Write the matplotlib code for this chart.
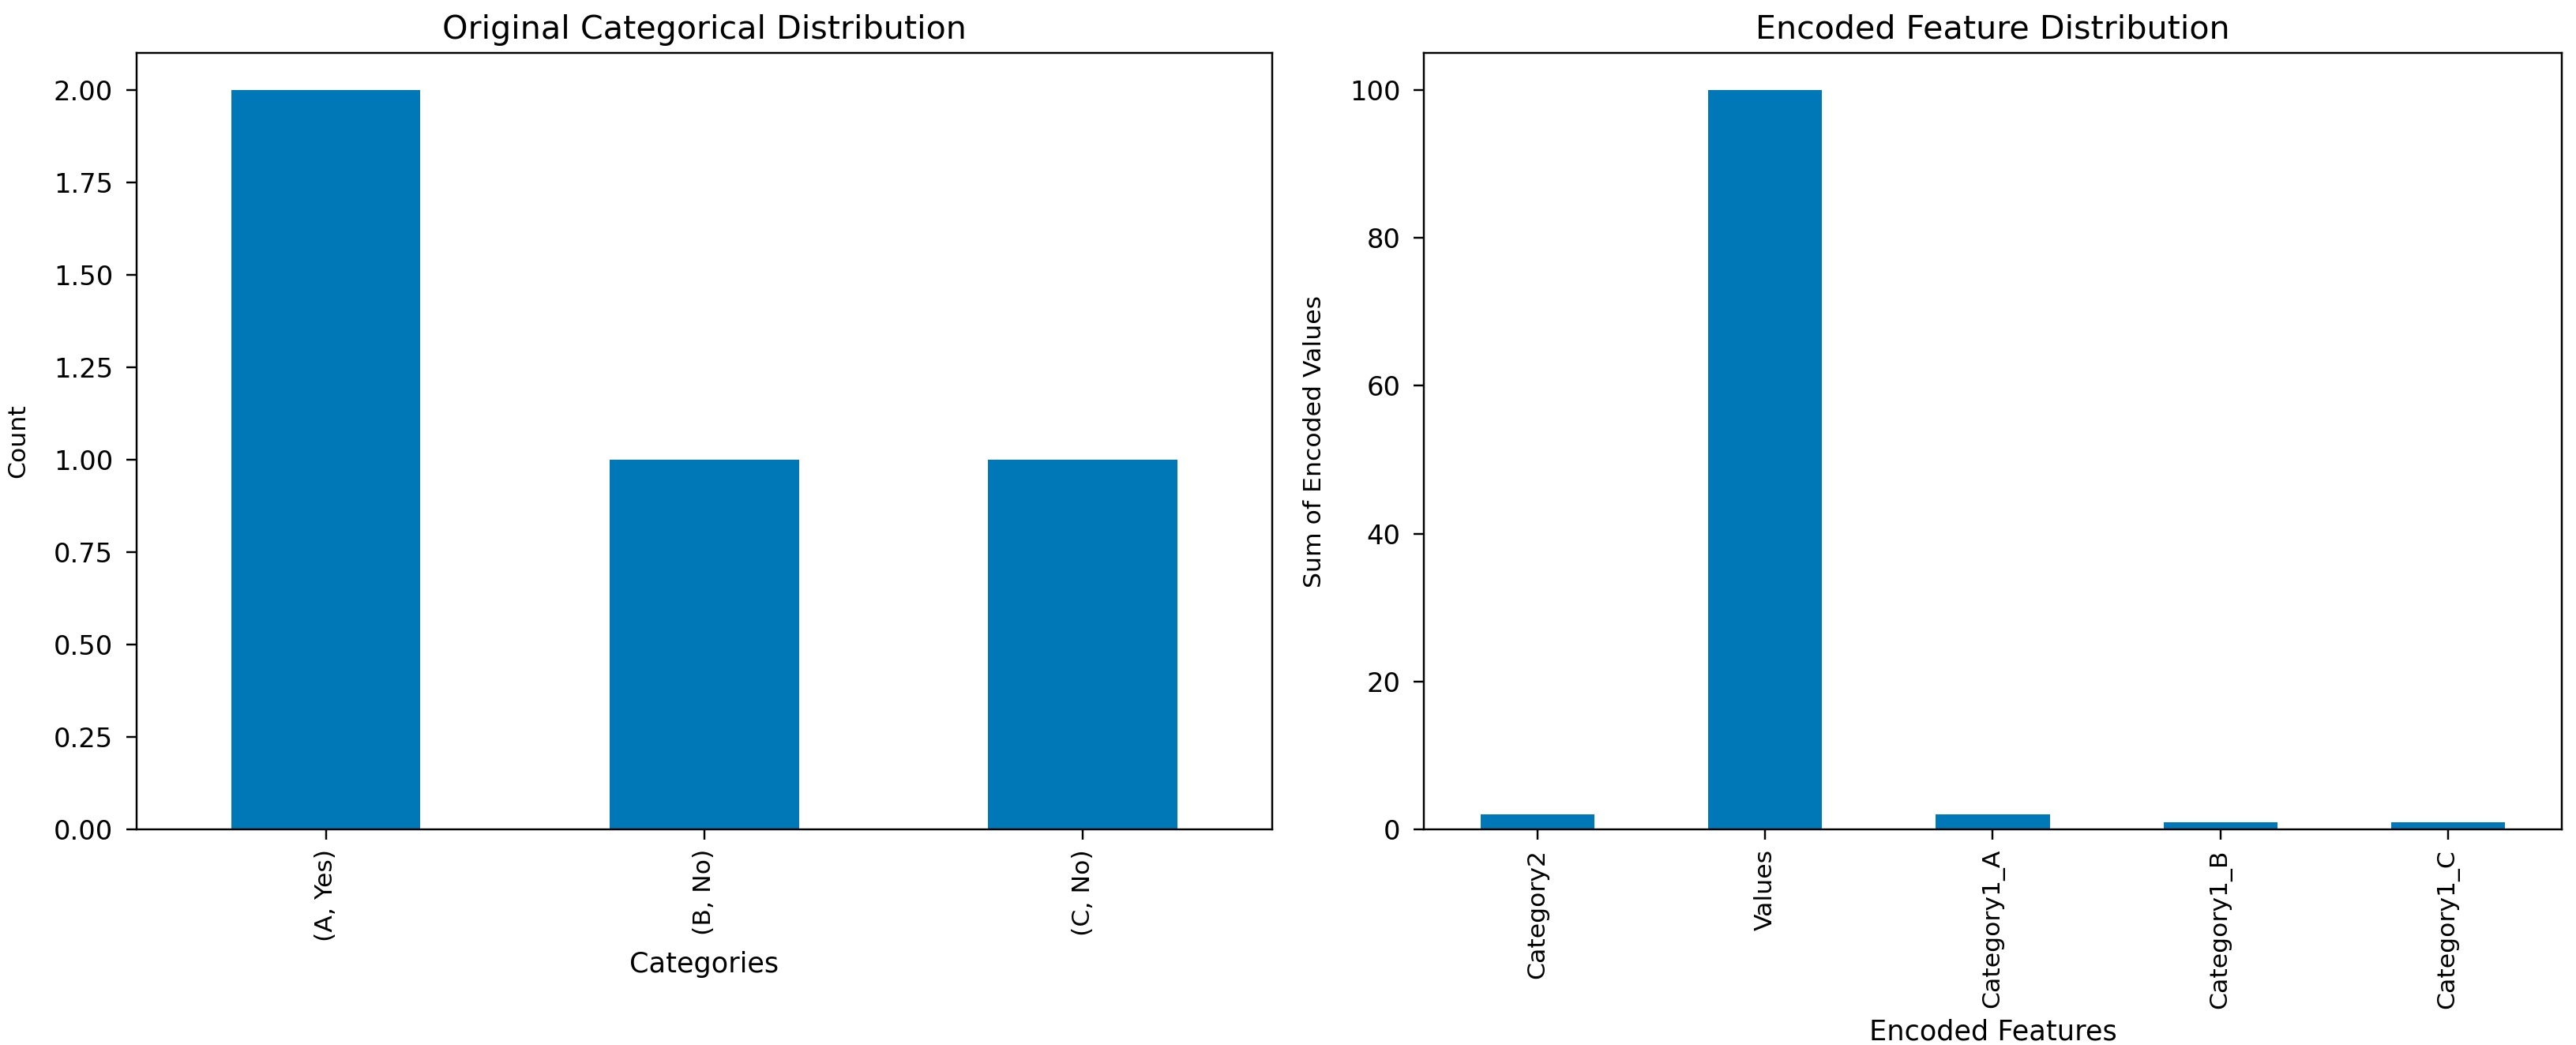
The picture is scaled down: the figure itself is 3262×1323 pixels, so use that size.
import matplotlib
matplotlib.use("Agg")
import matplotlib.pyplot as plt
import numpy as np

# данные
categories = ["(A, Yes)", "(B, No)", "(C, No)"]
counts = [2, 1, 1]

features = ["Category2", "Values", "Category1_A", "Category1_B", "Category1_C"]
encoded_sums = [2, 100, 2, 1, 1]

bar_color = "#0077B6"

plt.rcParams["xtick.major.size"] = 4.2
plt.rcParams["ytick.major.size"] = 4.2
plt.rcParams["ytick.major.pad"] = 5.5
plt.rcParams["xtick.major.pad"] = 4

fig = plt.figure(figsize=(3262 / 220, 1323 / 220), dpi=220)
ax1 = fig.add_axes([0.0530, 0.2063, 0.4408, 0.743])
ax2 = fig.add_axes([0.5527, 0.2063, 0.4418, 0.743])

# левый график - исходное распределение категорий
x1 = np.arange(len(categories))
ax1.bar(x1, counts, width=0.5, color=bar_color)
ax1.set_xlim(-0.5, len(categories) - 0.5)
ax1.set_ylim(0, 2.1)
ax1.set_yticks(np.arange(0, 2.01, 0.25))
ax1.set_xticks(x1)
ax1.set_xticklabels(categories, rotation=90, fontsize=10.3)
ax1.tick_params(axis="y", labelsize=11)
ax1.set_title("Original Categorical Distribution", fontsize=13.5)
ax1.set_xlabel("Categories", fontsize=11.5)
ax1.set_ylabel("Count", fontsize=10.3)
ax1.yaxis.set_label_coords(-0.094, 0.5)

# правый график - закодированные признаки
x2 = np.arange(len(features))
ax2.bar(x2, encoded_sums, width=0.5, color=bar_color)
ax2.set_xlim(-0.5, len(features) - 0.5)
ax2.set_ylim(0, 105)
ax2.set_xticks(x2)
ax2.set_xticklabels(features, rotation=90, fontsize=10.3)
ax2.tick_params(axis="y", labelsize=11)
ax2.set_title("Encoded Feature Distribution", fontsize=13.5)
ax2.set_xlabel("Encoded Features", fontsize=11.5)
ax2.set_ylabel("Sum of Encoded Values", fontsize=10.3)
ax2.yaxis.set_label_coords(-0.086, 0.5)

fig.savefig("out.png", dpi=220)
